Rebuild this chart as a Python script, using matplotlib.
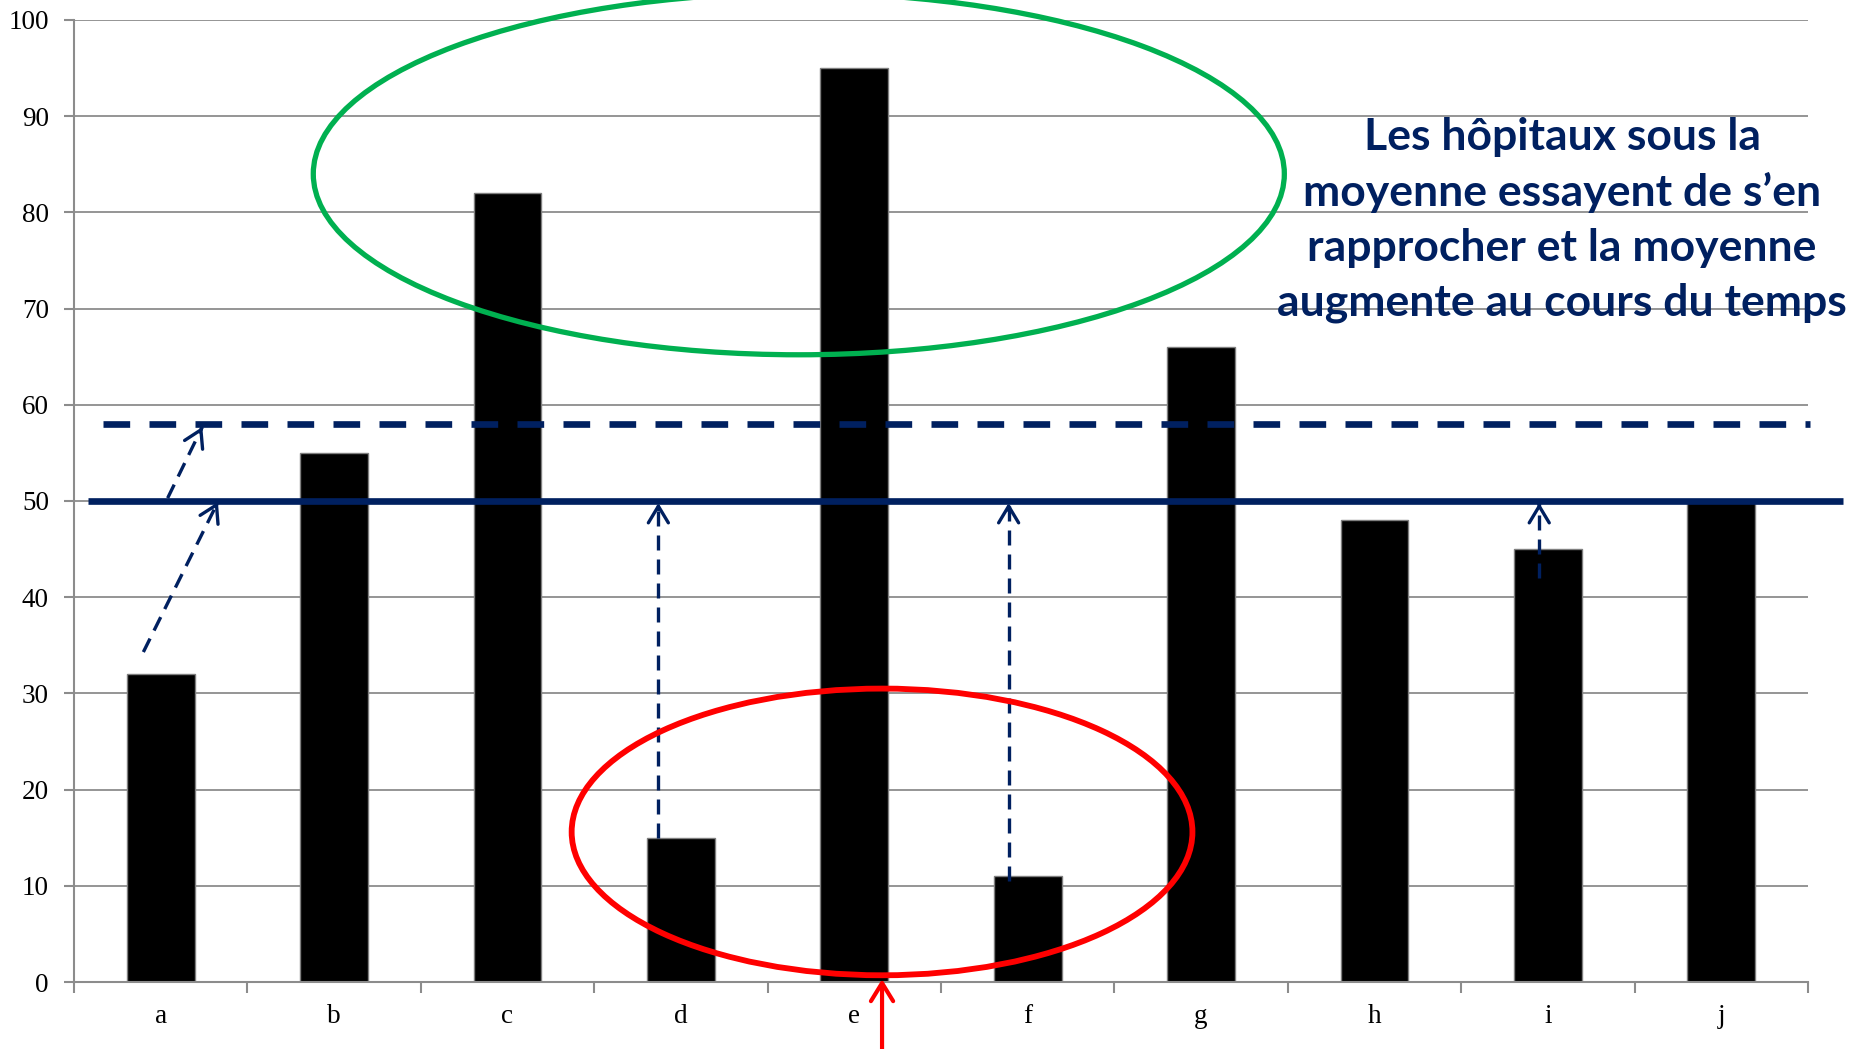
import numpy as np
import matplotlib
matplotlib.use("Agg")
import matplotlib.pyplot as plt
from matplotlib.patches import Ellipse

# data
categories = ["a", "b", "c", "d", "e", "f", "g", "h", "i", "j"]
values = [32, 55, 82, 15, 95, 11, 66, 48, 45, 50]
mean_old = 50
mean_new = 58
yticks = list(range(0, 101, 10))

# dashed arrows (x0, y0, x1, y1) in data units
arrows = [
    (-0.10, 34.3, 0.33, 49.9),
    (0.04, 50.3, 0.24, 57.7),
    (2.87, 15.0, 2.87, 49.8),
    (4.89, 10.5, 4.89, 49.8),
    (7.95, 42.0, 7.95, 49.8),
]

navy = "#002060"
grid_c = "#8c8c8c"

fig = plt.figure(figsize=(18.7, 10.49), dpi=100)
ax = fig.add_axes([74/1870, 1-982/1049, (1808-74)/1870, (982-20)/1049])

x = np.arange(len(categories))
ax.bar(x, values, width=0.39, color="black", edgecolor="#7f7f7f", linewidth=1, zorder=2)

ax.set_xlim(-0.5, len(categories) - 0.5)
ax.set_ylim(0, 100)
ax.set_yticks(yticks)
ax.set_yticklabels([str(v) for v in yticks], fontsize=19.5, family="Liberation Serif")
ax.set_xticks(x)
ax.set_xticklabels(categories, fontsize=19.5, family="Liberation Serif")
ax.set_xticks(np.arange(-0.5, len(categories)), minor=True)
ax.tick_params(axis="x", which="major", length=0, pad=16)
ax.tick_params(axis="x", which="minor", length=8, width=1.5, color=grid_c, direction="out")
ax.tick_params(axis="y", length=7, width=1.5, color=grid_c, pad=11)
ax.yaxis.grid(True, color=grid_c, linewidth=1.3, zorder=1)
ax.set_axisbelow(True)
for s in ["top", "right"]:
    ax.spines[s].set_visible(False)
for s in ["left", "bottom"]:
    ax.spines[s].set_color(grid_c)
    ax.spines[s].set_linewidth(1.5)

# means
ax.plot([-0.42, 9.70], [mean_old, mean_old], color=navy, lw=4.8, solid_capstyle="butt",
        clip_on=False, zorder=4)
ax.plot([-0.33, 9.51], [mean_new, mean_new], color=navy, lw=4.8, dashes=(4, 2.9),
        dash_capstyle="butt", clip_on=False, zorder=4)

# dashed arrows
for x0, y0, x1, y1 in arrows:
    ax.plot([x0, x1], [y0, y1], color=navy, lw=2.4, dashes=(4.5, 2.7), zorder=5, clip_on=False)
    ax.annotate("", xy=(x1, y1), xytext=(x1 - 0.02*(x1-x0), y1 - 0.02*(y1-y0)),
                arrowprops=dict(arrowstyle="->,head_length=0.6,head_width=0.36", color=navy,
                                lw=2.4, shrinkA=0, shrinkB=0, mutation_scale=20),
                zorder=5, annotation_clip=False)

# ellipses
ax.add_patch(Ellipse((3.68, 84.0), 5.60, 37.6, fill=False, edgecolor="#00B050", lw=3.8,
                     clip_on=False, zorder=6))
ax.add_patch(Ellipse((4.16, 15.6), 3.58, 29.8, fill=False, edgecolor="#FF0000", lw=4.2,
                     clip_on=False, zorder=6))

# red arrow
ax.annotate("", xy=(4.16, 0.3), xytext=(4.16, -7.5),
            arrowprops=dict(arrowstyle="->,head_length=0.65,head_width=0.4", color="#FF0000",
                            lw=3, shrinkA=0, shrinkB=0, mutation_scale=20),
            zorder=7, annotation_clip=False)

fig.text(1562/1870, 1-220/1049,
         "Les hôpitaux sous la\nmoyenne essayent de s’en\nrapprocher et la moyenne\naugmente au cours du temps",
         ha="center", va="center", fontsize=32, fontweight="bold", color=navy,
         family="Lato", linespacing=1.45)

fig.savefig("out.png", dpi=100)
